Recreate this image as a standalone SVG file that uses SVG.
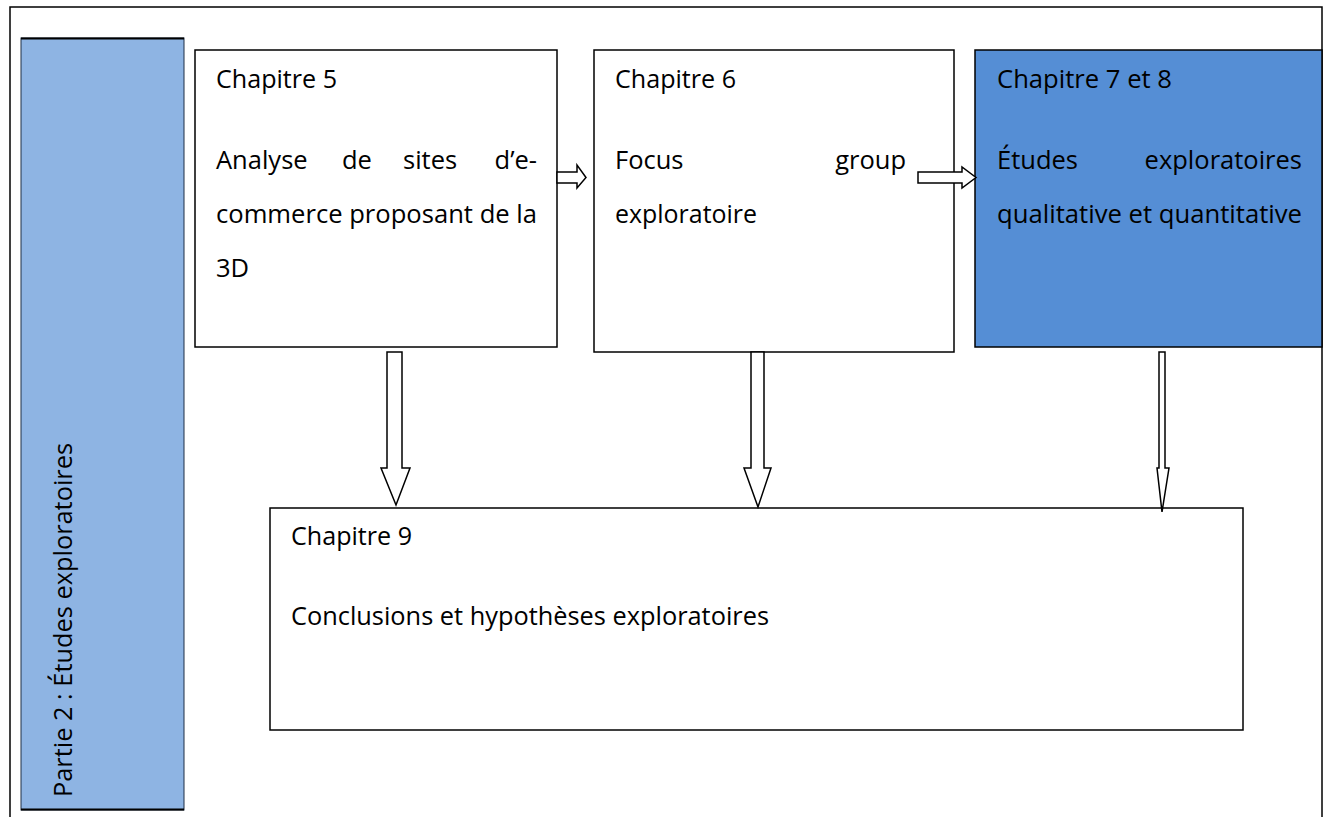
<svg xmlns="http://www.w3.org/2000/svg" width="1330" height="817" viewBox="0 0 1330 817">
<style>
.box{fill:#ffffff;stroke:#000;stroke-width:1.5}
.t{font-family:"Open Sans","Noto Sans",sans-serif;font-size:25.5px;fill:#000}
.e{text-anchor:end}
.arr{fill:#ffffff;stroke:#000;stroke-width:1.5;stroke-linejoin:miter}
</style>
<rect x="0" y="0" width="1330" height="817" fill="#ffffff"/>
<rect id="frame" x="10" y="7" width="1312" height="820" fill="none" stroke="#000" stroke-width="1.5"/>
<g id="partie">
<rect x="21" y="38" width="163" height="772" fill="#8EB4E3" stroke="#1f2f44" stroke-width="1"/>
<line x1="21" y1="38.5" x2="184" y2="38.5" stroke="#000" stroke-width="2"/>
<line x1="21" y1="809.5" x2="184" y2="809.5" stroke="#000" stroke-width="2"/>
<text class="t" transform="translate(72,797) rotate(-90)" textLength="354" lengthAdjust="spacingAndGlyphs">Partie 2 : Études exploratoires</text>
</g>
<g id="ch5">
<rect class="box" x="195" y="50" width="362" height="297"/>
<text class="t" x="216" y="88" textLength="121" lengthAdjust="spacingAndGlyphs">Chapitre 5</text>
<text class="t" x="216" y="169">Analyse</text>
<text class="t" x="342" y="169">de</text>
<text class="t" x="403" y="169">sites</text>
<text class="t e" x="537" y="169">d’e-</text>
<text class="t" x="216" y="223" textLength="321" lengthAdjust="spacingAndGlyphs">commerce proposant de la</text>
<text class="t" x="216" y="277">3D</text>
</g>
<g id="ch6">
<rect class="box" x="594" y="50" width="360" height="302"/>
<text class="t" x="615" y="88" textLength="121" lengthAdjust="spacingAndGlyphs">Chapitre 6</text>
<text class="t" x="615" y="169">Focus</text>
<text class="t e" x="906" y="169">group</text>
<text class="t" x="615" y="223" textLength="142" lengthAdjust="spacingAndGlyphs">exploratoire</text>
</g>
<g id="ch78">
<rect x="975" y="50" width="347" height="297" fill="#558ED5" stroke="#000" stroke-width="1.5"/>
<text class="t" x="997" y="88" textLength="175" lengthAdjust="spacingAndGlyphs">Chapitre 7 et 8</text>
<text class="t" x="997" y="169">Études</text>
<text class="t e" x="1302" y="169">exploratoires</text>
<text class="t" x="997" y="223" textLength="305" lengthAdjust="spacingAndGlyphs">qualitative et quantitative</text>
</g>
<g id="ch9">
<rect class="box" x="270" y="508" width="973" height="222"/>
<text class="t" x="291" y="545" textLength="121" lengthAdjust="spacingAndGlyphs">Chapitre 9</text>
<text class="t" x="291" y="625" textLength="478" lengthAdjust="spacingAndGlyphs">Conclusions et hypothèses exploratoires</text>
</g>
<g id="connectors">
<polygon class="arr" points="557,172 577,172 577,165 586,177.5 577,188 577,183 557,183"/>
<polygon class="arr" points="918,172 962,172 962,167 976,177.5 962,188 962,183 918,183"/>
<polygon class="arr" points="387,352 402,352 402,468 410,468 396,505 381,468 387,468"/>
<polygon class="arr" points="751,352 764,352 764,468 771,468 758,507 744,468 751,468"/>
<polygon class="arr" points="1159,352 1165,352 1165,468 1169,468 1162,512 1157,468 1159,468"/>
</g>
</svg>
